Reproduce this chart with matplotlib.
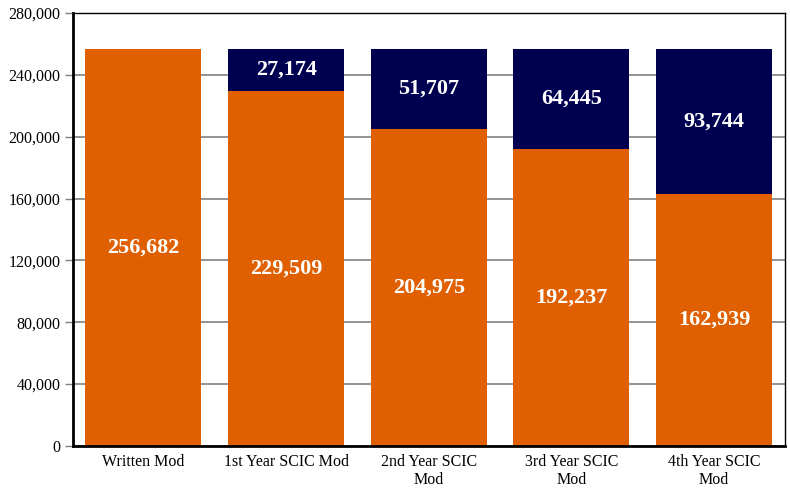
import matplotlib
matplotlib.use("Agg")
import matplotlib.pyplot as plt
from matplotlib.ticker import FuncFormatter

# data
categories = ["Written Mod", "1st Year SCIC Mod", "2nd Year SCIC\nMod",
              "3rd Year SCIC\nMod", "4th Year SCIC\nMod"]
bottom_vals = [256682, 229509, 204975, 192237, 162939]
top_vals = [0, 27174, 51707, 64445, 93744]

ORANGE = "#E05F00"
NAVY = "#000050"

plt.rcParams["font.family"] = ["Liberation Serif", "DejaVu Serif"]

fig = plt.figure(figsize=(7.9, 4.88), dpi=100)
ax = fig.add_axes([0.0924, 0.0861, 0.9013, 0.8873])

x = range(len(categories))
ax.bar(x, bottom_vals, width=0.813, color=ORANGE, zorder=2)
ax.bar(x, top_vals, width=0.813, bottom=bottom_vals, color=NAVY, zorder=2)

for i in x:
    ax.text(i, bottom_vals[i] / 2, f"{bottom_vals[i]:,}", ha="center", va="center",
            color="white", fontsize=16, fontweight="bold", zorder=3)
    if top_vals[i] > 0:
        ax.text(i, bottom_vals[i] + top_vals[i] / 2, f"{top_vals[i]:,}", ha="center",
                va="center", color="white", fontsize=16, fontweight="bold", zorder=3)

ax.set_xlim(-0.494, 4.498)
ax.set_ylim(0, 280000)
ax.set_yticks(range(0, 280001, 40000))
ax.yaxis.set_major_formatter(FuncFormatter(lambda v, p: f"{int(v):,}"))
ax.set_xticks(list(x))
ax.set_xticklabels(categories, fontsize=11.5, linespacing=1.15)
ax.tick_params(axis="y", labelsize=11.5, length=6, width=1, color="#808080", pad=3)
ax.tick_params(axis="x", length=0, pad=6)

ax.grid(axis="y", color="#808080", linewidth=1.2, zorder=1)
ax.spines["left"].set_linewidth(2)
ax.spines["bottom"].set_linewidth(2)
ax.spines["top"].set_linewidth(1)
ax.spines["right"].set_linewidth(1)
for s in ax.spines.values():
    s.set_color("black")

fig.savefig("out.png", dpi=100)
